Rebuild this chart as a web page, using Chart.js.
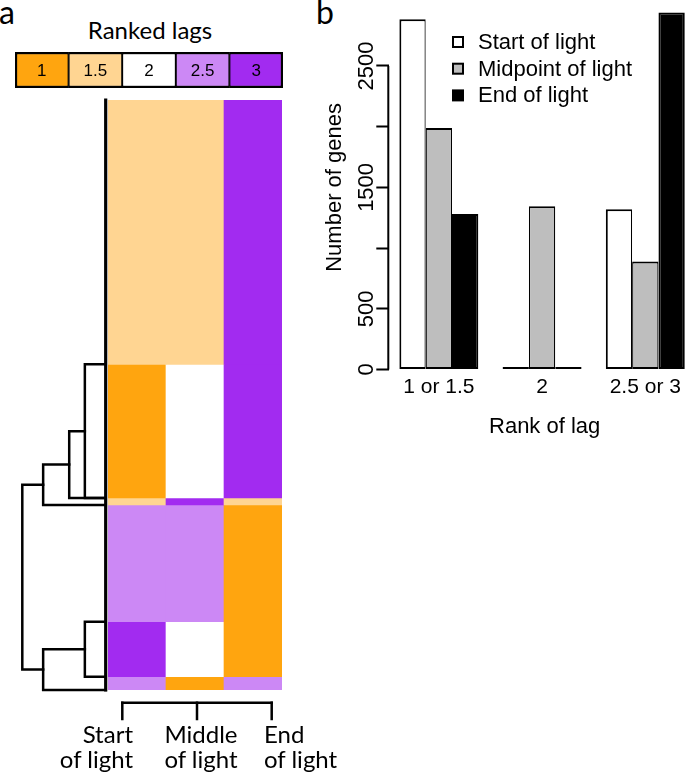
<!DOCTYPE html>
<html>
<head>
<meta charset="utf-8">
<script src="https://cdn.jsdelivr.net/npm/chart.js@4.4.1/dist/chart.umd.min.js"></script>
<style>
  html, body { margin: 0; padding: 0; background: #fff; }
  body { position: relative; width: 685px; height: 774px; overflow: hidden; }
  canvas { position: absolute; }
  .txt { position: absolute; font-family: Lato, sans-serif; color: #000; white-space: nowrap; line-height: 25px; font-size: 24px; }
</style>
</head>
<body>
<div class="txt" style="left:-1px; top:-4px; font-size:32px; line-height:32px;">a</div>
<div class="txt" style="left:316px; top:-4px; font-size:32px; line-height:32px;">b</div>
<div class="txt" style="left:50px; width:200px; text-align:center; top:17px;">Ranked lags</div>

<canvas id="keyChart" width="268" height="36" style="left:15px; top:52px;"></canvas>
<canvas id="heatChart" width="174" height="590" style="left:108px; top:100px;"></canvas>
<canvas id="dendChart" width="100" height="600" style="left:12px; top:95px;"></canvas>
<canvas id="bracketChart" width="175" height="30" style="left:110px; top:695px;"></canvas>

<div class="txt" style="left:33px; width:100px; text-align:right; top:721px;">Start</div>
<div class="txt" style="left:33px; width:100px; text-align:right; top:746px;">of light</div>
<div class="txt" style="left:151px; width:100px; text-align:center; top:721px;">Middle</div>
<div class="txt" style="left:151px; width:100px; text-align:center; top:746px;">of light</div>
<div class="txt" style="left:264px; top:721px;">End</div>
<div class="txt" style="left:264px; top:746px;">of light</div>

<canvas id="barChart" width="390" height="450" style="left:310px; top:0px;"></canvas>

<script>
// panel a: ranked lags heatmap
const rankLevels = ['1', '1.5', '2', '2.5', '3'];
const rankColors = ['#FFA50F', '#FFD592', '#FFFFFF', '#CC88F5', '#A22BF0'];
const lightColumns = ['Start of light', 'Middle of light', 'End of light'];
// genes per row block, top to bottom
const blockSizes = [1890, 955, 50, 835, 393, 95];
// rank of each block in each column
const blockRanks = [
  [1.5, 1.5, 3],
  [1, 2, 3],
  [1.5, 3, 1.5],
  [2.5, 2.5, 1],
  [3, 2, 1],
  [2.5, 1, 2.5]
];
// hclust style merges: negative = end of block k, positive = earlier merge row
const dendMerges = [[-1, -2, 1], [1, -2, 1.75], [2, -3, 3], [-4, -5, 1], [4, -6, 3], [3, 5, 4]];
const bracketTicks = [1, 2, 3];

// panel b: number of genes per rank of lag
const rankGroups = ['1 or 1.5', '2', '2.5 or 3'];
const groupIndex = [1, 2, 3];
const startCounts = [2885, 0, 1320];
const midCounts = [1990, 1345, 890];
const endCounts = [1280, 0, 2940];
const yTicks = [0, 500, 1000, 1500, 2000, 2500];
const yTickLabels = ['0', '500', '', '1500', '', '2500'];

const totalGenes = blockSizes.reduce((a, b) => a + b, 0);
const blockEnds = [];
blockSizes.reduce((acc, n) => { blockEnds.push(acc + n); return acc + n; }, 0);

const noUi = { legend: { display: false }, tooltip: { enabled: false } };

// colour key
const keyLabels = {
  id: 'keyLabels',
  afterDatasetsDraw(chart) {
    const ctx = chart.ctx;
    ctx.save();
    ctx.font = '17px "Liberation Sans", Arial, sans-serif';
    ctx.fillStyle = '#000';
    ctx.textAlign = 'center';
    ctx.textBaseline = 'middle';
    chart.data.datasets.forEach((ds, i) => {
      const p = chart.getDatasetMeta(i).data[0].getCenterPoint();
      ctx.fillText(ds.label, p.x, p.y + 1);
    });
    ctx.restore();
  }
};

new Chart(document.getElementById('keyChart'), {
  type: 'bar',
  data: {
    labels: ['key'],
    datasets: rankLevels.map((r, i) => ({
      label: r,
      data: [1],
      backgroundColor: rankColors[i],
      borderColor: '#000',
      borderWidth: { top: 2.5, bottom: 2.5, left: i === 0 ? 2.5 : 1.3, right: i === rankLevels.length - 1 ? 2.5 : 1.3 },
      borderSkipped: false,
      categoryPercentage: 1,
      barPercentage: 1
    }))
  },
  options: {
    indexAxis: 'y',
    responsive: false,
    animation: false,
    events: [],
    plugins: noUi,
    scales: {
      x: { display: false, stacked: true, min: 0, max: rankLevels.length },
      y: { display: false, stacked: true }
    }
  },
  plugins: [keyLabels]
});

// heatmap
new Chart(document.getElementById('heatChart'), {
  type: 'bar',
  data: {
    labels: lightColumns,
    datasets: blockSizes.map((n, i) => ({
      data: lightColumns.map(() => n),
      backgroundColor: blockRanks[i].map(r => rankColors[rankLevels.indexOf(String(r))]),
      borderWidth: 0,
      categoryPercentage: 1,
      barPercentage: 1
    }))
  },
  options: {
    responsive: false,
    animation: false,
    events: [],
    plugins: noUi,
    scales: {
      x: { display: false, stacked: true },
      y: { display: false, stacked: true, reverse: true, min: 0, max: totalGenes }
    }
  }
});

// row dendrogram
const nodes = [];
const dendSets = [{ data: [{ x: 0, y: 0 }, { x: 0, y: totalGenes }], borderWidth: 3.2 }];
dendMerges.forEach(([a, b, h]) => {
  const ca = a < 0 ? { h: 0, y: blockEnds[-a - 1] } : nodes[a - 1];
  const cb = b < 0 ? { h: 0, y: blockEnds[-b - 1] } : nodes[b - 1];
  dendSets.push({
    data: [{ x: ca.h, y: ca.y }, { x: h, y: ca.y }, { x: h, y: cb.y }, { x: cb.h, y: cb.y }],
    borderWidth: 2.5
  });
  nodes.push({ h: h, y: (ca.y + cb.y) / 2 });
});

new Chart(document.getElementById('dendChart'), {
  type: 'scatter',
  data: {
    datasets: dendSets.map(d => Object.assign({
      showLine: true,
      borderColor: '#000',
      pointRadius: 0,
      tension: 0,
      clip: false,
      borderJoinStyle: 'miter',
      borderCapStyle: 'square'
    }, d))
  },
  options: {
    responsive: false,
    animation: false,
    events: [],
    plugins: noUi,
    layout: { padding: { left: 10.3, right: 6.3, top: 5, bottom: 5 } },
    scales: {
      x: { display: false, type: 'linear', min: 0, max: 4, reverse: true },
      y: { display: false, type: 'linear', min: 0, max: totalGenes, reverse: true }
    }
  }
});

// column bracket
const bracketSets = [{ data: [{ x: bracketTicks[0], y: 1 }, { x: bracketTicks[bracketTicks.length - 1], y: 1 }] }]
  .concat(bracketTicks.map(t => ({ data: [{ x: t, y: 1 }, { x: t, y: 0 }] })));

new Chart(document.getElementById('bracketChart'), {
  type: 'scatter',
  data: {
    datasets: bracketSets.map(d => Object.assign({
      showLine: true,
      borderColor: '#000',
      borderWidth: 2.5,
      pointRadius: 0,
      clip: false,
      borderCapStyle: 'square'
    }, d))
  },
  options: {
    responsive: false,
    animation: false,
    events: [],
    plugins: noUi,
    layout: { padding: { left: 12.3, right: 13.3, top: 7.7, bottom: 6 } },
    scales: {
      x: { display: false, type: 'linear', min: 1, max: 3 },
      y: { display: false, type: 'linear', min: 0, max: 1 }
    }
  }
});

// panel b helpers: R style y axis and legend
const FONT_B = '22px "Liberation Sans", Arial, sans-serif';

const rAxis = {
  id: 'rAxis',
  afterDraw(chart) {
    const s = chart.scales.y;
    const ctx = chart.ctx;
    ctx.save();
    ctx.strokeStyle = '#000';
    ctx.lineWidth = 2;
    ctx.beginPath();
    ctx.moveTo(s.right - 1, s.getPixelForValue(yTicks[0]));
    ctx.lineTo(s.right - 1, s.getPixelForValue(yTicks[yTicks.length - 1]));
    ctx.stroke();
    ctx.font = FONT_B;
    ctx.fillStyle = '#000';
    ctx.textAlign = 'center';
    ctx.textBaseline = 'alphabetic';
    yTicks.forEach((v, i) => {
      if (!yTickLabels[i]) return;
      ctx.save();
      ctx.translate(s.right - 16, s.getPixelForValue(v));
      ctx.rotate(-Math.PI / 2);
      ctx.fillText(yTickLabels[i], 0, 0);
      ctx.restore();
    });
    ctx.restore();
  }
};

const rLegend = {
  id: 'rLegend',
  afterDraw(chart) {
    const ctx = chart.ctx;
    ctx.save();
    ctx.font = FONT_B;
    ctx.textBaseline = 'middle';
    ctx.textAlign = 'left';
    chart.data.datasets.forEach((ds, i) => {
      const y = 42 + i * 26.7;
      ctx.fillStyle = ds.backgroundColor;
      ctx.fillRect(143, y - 5, 10, 10);
      ctx.strokeStyle = '#000';
      ctx.lineWidth = 2;
      ctx.strokeRect(143, y - 5, 10, 10);
      ctx.fillStyle = '#000';
      ctx.fillText(ds.label, 168, y + 1);
    });
    ctx.restore();
  }
};

const toPoints = arr => arr.map((v, i) => ({ x: groupIndex[i], y: v }));

new Chart(document.getElementById('barChart'), {
  type: 'bar',
  data: {
    datasets: [
      {
        label: 'Start of light',
        data: toPoints(startCounts),
        backgroundColor: '#FFFFFF',
        borderWidth: { top: 2, bottom: 2, left: 2, right: 1.2 }
      },
      {
        label: 'Midpoint of light',
        data: toPoints(midCounts),
        backgroundColor: '#BEBEBE',
        borderWidth: { top: 2, bottom: 2, left: 1.2, right: 1.2 }
      },
      {
        label: 'End of light',
        data: toPoints(endCounts),
        backgroundColor: '#000000',
        borderWidth: 2
      }
    ].map(d => Object.assign({
      borderColor: '#000',
      borderSkipped: false,
      categoryPercentage: 0.765,
      barPercentage: 1,
      minBarLength: 2.5
    }, d))
  },
  options: {
    responsive: false,
    animation: false,
    events: [],
    plugins: noUi,
    layout: { padding: { left: 0, right: 0, top: 5.3, bottom: 0 } },
    scales: {
      x: {
        type: 'linear',
        offset: false,
        min: 0.52,
        max: 3.53,
        afterBuildTicks: s => { s.ticks = groupIndex.map(v => ({ value: v })); },
        afterFit: s => { s.height = 80.5; },
        ticks: {
          autoSkip: false,
          maxRotation: 0,
          padding: 5,
          color: '#000',
          font: { family: '"Liberation Sans", Arial, sans-serif', size: 21 },
          callback: v => rankGroups[groupIndex.indexOf(v)]
        },
        grid: { display: false, drawTicks: false },
        border: { display: false },
        title: {
          display: true,
          text: 'Rank of lag',
          color: '#000',
          font: { family: '"Liberation Sans", Arial, sans-serif', size: 22 },
          padding: { top: 0, bottom: 9.8 }
        }
      },
      y: {
        min: 0,
        max: 3000,
        afterBuildTicks: s => { s.ticks = yTicks.map(v => ({ value: v })); },
        afterFit: s => { s.width = 79.3; },
        ticks: { display: false },
        grid: {
          drawOnChartArea: false,
          drawTicks: true,
          tickLength: 13,
          tickWidth: 2,
          tickColor: '#000',
          color: '#000'
        },
        border: { display: false },
        title: {
          display: true,
          text: 'Number of genes',
          color: '#000',
          font: { family: '"Liberation Sans", Arial, sans-serif', size: 22 },
          padding: { top: 12, bottom: 0 }
        }
      }
    }
  },
  plugins: [rAxis, rLegend]
});
</script>
</body>
</html>
